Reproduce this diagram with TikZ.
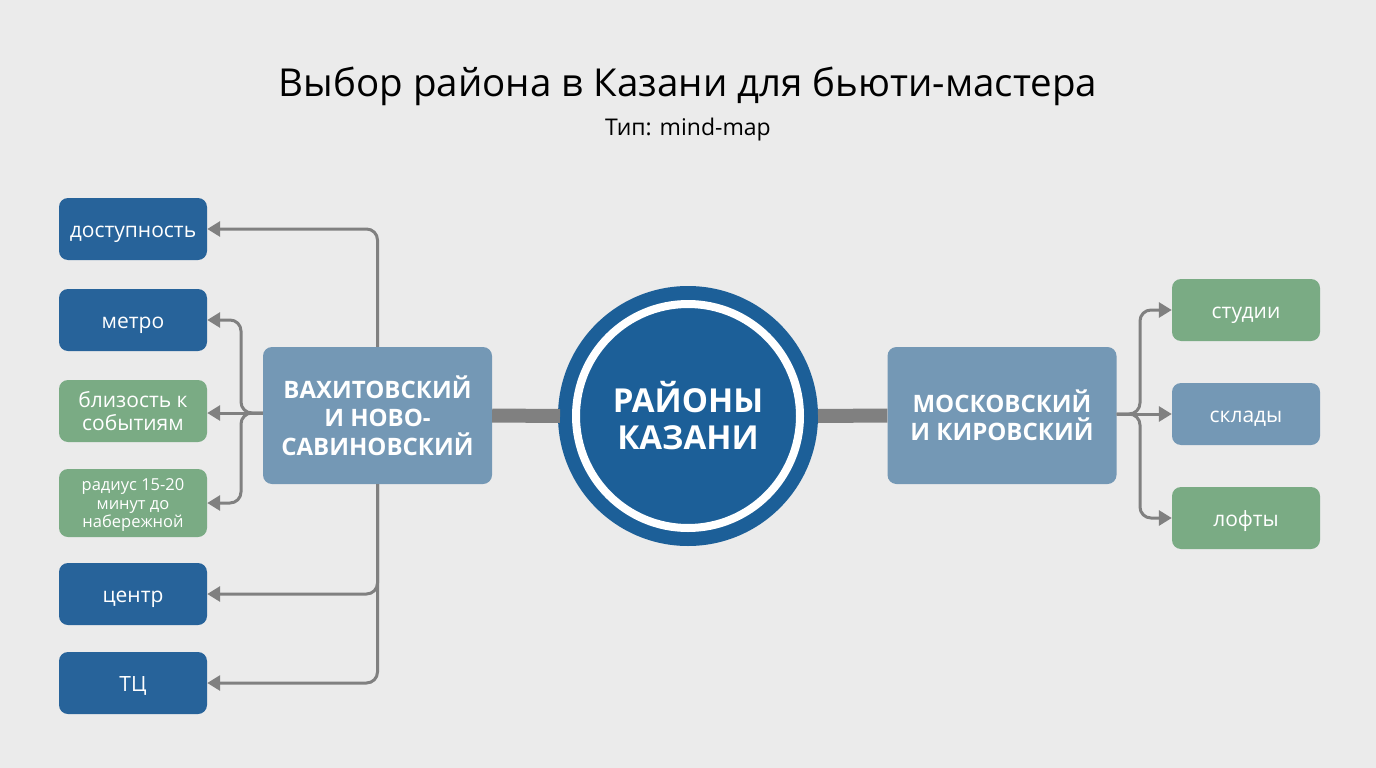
\documentclass[tikz,border=0pt]{standalone}
\usepackage{fontspec}
\setmainfont{Open Sans}
\usetikzlibrary{arrows.meta}
\definecolor{bg}{HTML}{EBEBEB}
\definecolor{dblue}{HTML}{27639A}
\definecolor{lblue}{HTML}{7498B5}
\definecolor{lgreen}{HTML}{7AAB84}
\definecolor{cblue}{HTML}{1C5F98}
\definecolor{conn}{HTML}{808080}
\begin{document}
\begin{tikzpicture}[x=1pt,y=-1pt,
  leaf/.style={rounded corners=9pt, minimum width=148pt, minimum height=62pt, inner sep=2pt, text=white, align=center, font=\fontsize{21}{23}\selectfont},
  one/.style={text height=16pt, text depth=0pt},
  dleaf/.style={leaf, fill=dblue},
  gleaf/.style={leaf, fill=lgreen},
  bleaf/.style={leaf, fill=lblue},
  dist/.style={rounded corners=9pt, fill=lblue, minimum width=229pt, minimum height=137pt, text=white, align=center, font=\fontsize{24}{28.5}\selectfont\bfseries},
  arr/.style={draw=conn, line width=3pt, rounded corners=11pt, -{Triangle[length=13pt,width=15pt]}},
  bar/.style={draw=conn, line width=14pt}
]
\useasboundingbox[fill=bg] (0,0) rectangle (1376,768);
\node[font=\fontsize{38.5}{44}\selectfont, anchor=base] (title) at (688,96) {Выбор района в Казани для бьюти-мастера};
\node[font=\fontsize{23}{27}\selectfont, anchor=base] (sub) at (688,135) {Тип: mind-map};

% center
\fill[cblue] (688,416) circle (130);
\node[circle, minimum size=224pt, draw=white, line width=8pt, fill=cblue, text=white, align=center, font=\fontsize{33}{37}\selectfont\bfseries] (c) at (688,416) {РАЙОНЫ\\КАЗАНИ};
\coordinate (cl) at (560,416);
\coordinate (cr) at (818,416);

\node[dist] (vah) at (377.5,415.5) {\rule{0pt}{20pt}ВАХИТОВСКИЙ\\И НОВО-\\САВИНОВСКИЙ};
\node[dist] (mos) at (1002,415.5) {МОСКОВСКИЙ\\И КИРОВСКИЙ};

\draw[bar] (vah.east) -- (cl);
\draw[bar] (cr) -- (mos.west);

% left leaves
\node[dleaf, one] (dost) at (133,229) {доступность};
\node[dleaf, one] (metro) at (133,320) {метро};
\node[gleaf] (blz) at (133,411) {близость к\\событиям};
\node[gleaf, minimum height=68pt, font=\fontsize{16.5}{18.5}\selectfont] (rad) at (133,503) {\rule{0pt}{16.5pt}радиус 15-20\\минут до\\набережной};
\node[dleaf, one] (cen) at (133,594) {центр};
\node[dleaf, one] (tc) at (133,683) {ТЦ};

% right leaves
\node[gleaf, one] (stu) at (1246,310) {студии};
\node[bleaf, one] (skl) at (1246,414) {склады};
\node[gleaf, one] (lof) at (1246,518) {лофты};

% connectors left
\coordinate (lj) at (241,413);
\draw[arr] (vah.north) |- (dost.east);
\draw[arr] (vah.west|-lj) -- (lj) |- (metro.east);
\draw[arr] (vah.west|-lj) -- (blz.east|-lj);
\draw[arr] (vah.west|-lj) -- (lj) |- (rad.east);
\draw[arr] (vah.south) |- (cen.east);
\draw[arr] (vah.south) |- (tc.east);

% connectors right
\coordinate (rj) at (1140,414);
\draw[arr] (mos.east|-rj) -- (rj) |- (stu.west);
\draw[arr] (mos.east|-rj) -- (skl.west);
\draw[arr] (mos.east|-rj) -- (rj) |- (lof.west);
\end{tikzpicture}
\end{document}
